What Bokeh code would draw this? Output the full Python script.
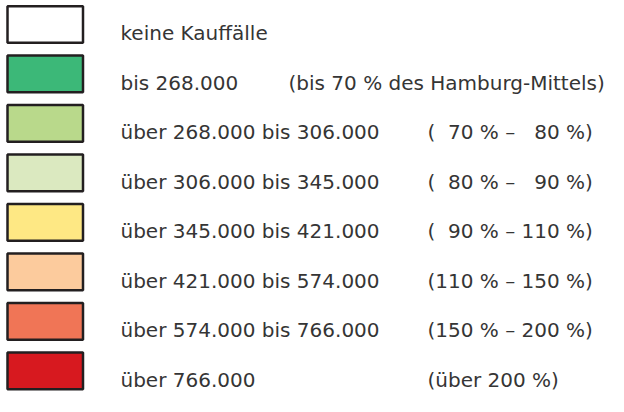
from bokeh.plotting import figure
from bokeh.models import Range1d, ColumnDataSource
from bokeh.core.properties import value
from bokeh.embed import file_html
from bokeh.resources import INLINE

# Legend content
labels = [
    "keine Kauffälle",
    "bis 268.000",
    "über 268.000 bis 306.000",
    "über 306.000 bis 345.000",
    "über 345.000 bis 421.000",
    "über 421.000 bis 574.000",
    "über 574.000 bis 766.000",
    "über 766.000",
]
F = "\u2007"
percents = [
    "",
    "(bis 70 % des Hamburg-Mittels)",
    f"({F}70 % – {F}80 %)",
    f"({F}80 % – {F}90 %)",
    f"({F}90 % – 110 %)",
    "(110 % – 150 %)",
    "(150 % – 200 %)",
    "(über 200 %)",
]
colors = ["#ffffff", "#3cb878", "#b9d98b", "#dbe9c0", "#fee884",
          "#fccb9d", "#f07556", "#d7191f"]

# layout (pixels of the reference)
top0, pitch, box_h = 6.0, 52.6, 39.0
idx = list(range(len(labels)))
tops = [top0 + pitch * i for i in idx]
bottoms = [t + box_h for t in tops]
base = [t + box_h / 2 + 9.5 for t in tops]
pct_x = [288 if i == 1 else 427 for i in idx]

src = ColumnDataSource(dict(top=tops, bottom=bottoms, color=colors,
                            label=labels, pct=percents, base=base,
                            pct_x=pct_x))

p = figure(width=608, height=396, output_backend="svg", toolbar_location=None,
           x_range=Range1d(0, 608), y_range=Range1d(421, 0),
           min_border=0, outline_line_color=None)
p.axis.visible = False
p.grid.visible = False
p.background_fill_color = "white"
p.border_fill_color = "white"

p.quad(left=7, right=82.5, top="top", bottom="bottom", fill_color="color",
       line_color="#231f20", line_width=2.5, source=src)

font = value("DejaVu Sans")
p.text(x=120, y="base", text="label", source=src, text_font=font,
       text_font_size="20px", text_color="#353535",
       text_baseline="alphabetic", text_align="left")
p.text(x="pct_x", y="base", text="pct", source=src, text_font=font,
       text_font_size="20px", text_color="#353535",
       text_baseline="alphabetic", text_align="left")

open("out.html", "w").write(file_html(p, INLINE))
